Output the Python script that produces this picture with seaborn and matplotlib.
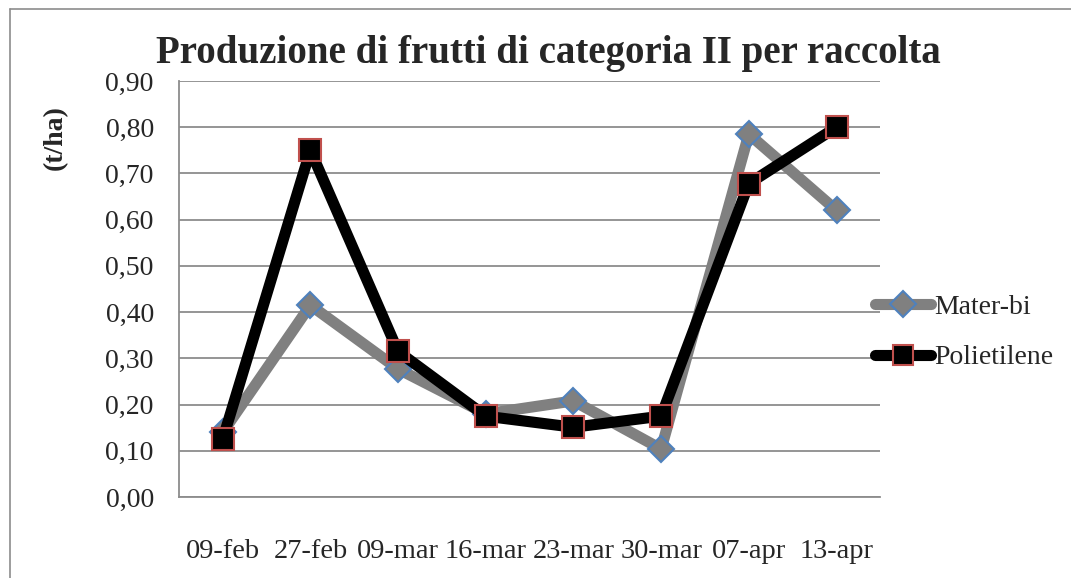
import matplotlib
matplotlib.use("Agg")
import matplotlib.pyplot as plt
import seaborn as sns
import pandas as pd
from matplotlib.lines import Line2D

dates = ["09-feb", "27-feb", "09-mar", "16-mar", "23-mar", "30-mar", "07-apr", "13-apr"]
mater_bi = [0.14, 0.415, 0.277, 0.18, 0.208, 0.104, 0.785, 0.62]
polietilene = [0.125, 0.75, 0.315, 0.175, 0.151, 0.175, 0.678, 0.80]
yticks = [0.0, 0.1, 0.2, 0.3, 0.4, 0.5, 0.6, 0.7, 0.8, 0.9]

sns.set_style("white")
plt.rcParams['font.family'] = ['Liberation Serif', 'DejaVu Serif']

df = pd.DataFrame({
    "pos": list(range(len(dates))) * 2,
    "val": mater_bi + polietilene,
    "serie": ["Mater-bi"] * len(dates) + ["Polietilene"] * len(dates),
})

fig = plt.figure(figsize=(10.71, 5.78), dpi=100)
ax = fig.add_axes([0.167, 0.140, 0.655, 0.720])

ax.grid(axis="y", color="#8c8c8c", linewidth=1.3)
ax.set_axisbelow(True)

sub1 = df[df.serie == "Mater-bi"]
sub2 = df[df.serie == "Polietilene"]
sns.lineplot(data=sub1, x="pos", y="val", ax=ax, color="#808080", linewidth=8,
             marker="D", markersize=13, markerfacecolor="#808080",
             markeredgecolor="#4f81bd", markeredgewidth=1.5, legend=False, zorder=3)
sns.lineplot(data=sub2, x="pos", y="val", ax=ax, color="black", linewidth=8,
             marker="s", markersize=16, markerfacecolor="black",
             markeredgecolor="#c0504d", markeredgewidth=1.5, legend=False, zorder=4)

ax.set_xlim(-0.5, len(dates) - 0.5)
ax.set_ylim(0, 0.9)
ax.set_yticks(yticks)
ax.set_yticklabels([f"{v:.2f}".replace(".", ",") for v in yticks], fontsize=20)
ax.set_xticks(range(len(dates)))
ax.set_xticklabels(dates, fontsize=20.5)
ax.set_xticks([i - 0.5 for i in range(len(dates) + 1)], minor=True)
ax.tick_params(axis="x", which="major", length=0, pad=30)
ax.tick_params(axis="x", which="minor", length=7, color="#8c8c8c", width=1.3, direction="out")
ax.tick_params(axis="y", length=7, color="#8c8c8c", width=1.3, direction="out", pad=11)
ax.set_xlabel("")
ax.set_ylabel("(t/ha)", fontsize=20, fontweight="bold")
ax.yaxis.set_label_coords(-0.158, 0.863)

for s in ["top", "right"]:
    ax.spines[s].set_visible(False)
for s in ["left", "bottom"]:
    ax.spines[s].set_color("#8c8c8c")
    ax.spines[s].set_linewidth(1.3)

fig.text(0.512, 0.908, "Produzione di frutti di categoria II per raccolta",
         ha="center", va="center", fontsize=28, fontweight="bold")

handles = [
    Line2D([], [], color="#808080", linewidth=8, marker="D", markersize=13,
           markerfacecolor="#808080", markeredgecolor="#4f81bd", markeredgewidth=1.5),
    Line2D([], [], color="black", linewidth=8, marker="s", markersize=14,
           markerfacecolor="black", markeredgecolor="#c0504d", markeredgewidth=1.5),
]
fig.legend(handles, ["Mater-bi", "Polietilene"], loc="center left",
           bbox_to_anchor=(0.794, 0.425), frameon=False, fontsize=20,
           handlelength=2.0, handletextpad=0.1, labelspacing=0.9)

fig.add_artist(Line2D([0.009, 0.009], [0.0, 0.984], transform=fig.transFigure,
                      color="#8c8c8c", linewidth=1.2))
fig.add_artist(Line2D([0.009, 1.0], [0.984, 0.984], transform=fig.transFigure,
                      color="#8c8c8c", linewidth=1.2))

fig.savefig("out.png", dpi=100)
